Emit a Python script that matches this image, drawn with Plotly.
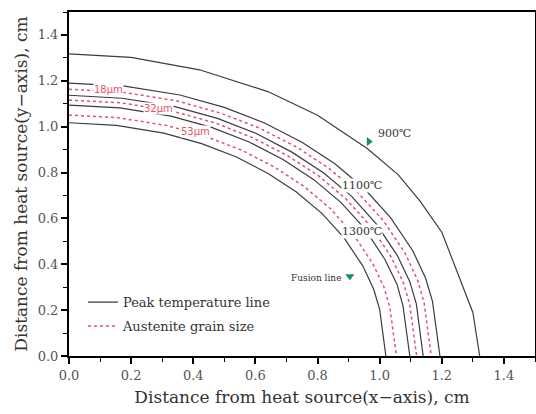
import plotly.graph_objects as go

# Peak temperature lines (solid)
fusion_x = [0, 0.153, 0.305, 0.427, 0.539, 0.641, 0.732, 0.814, 0.885, 0.946, 0.981, 1.000, 1.020]
fusion_y = [1.017, 1.006, 0.972, 0.926, 0.868, 0.796, 0.715, 0.622, 0.516, 0.392, 0.290, 0.203, 0]
t1300_x = [0, 0.164, 0.328, 0.459, 0.580, 0.689, 0.788, 0.875, 0.952, 1.017, 1.056, 1.075, 1.097]
t1300_y = [1.094, 1.082, 1.046, 0.997, 0.933, 0.857, 0.769, 0.670, 0.555, 0.421, 0.312, 0.219, 0]
t1200_x = [0, 0.171, 0.341, 0.478, 0.603, 0.716, 0.819, 0.910, 0.989, 1.057, 1.097, 1.118, 1.140]
t1200_y = [1.137, 1.124, 1.087, 1.036, 0.970, 0.890, 0.799, 0.696, 0.576, 0.438, 0.324, 0.227, 0]
t1100_x = [0, 0.179, 0.357, 0.500, 0.631, 0.750, 0.857, 0.952, 1.035, 1.107, 1.148, 1.170, 1.194]
t1100_y = [1.190, 1.177, 1.138, 1.084, 1.015, 0.932, 0.837, 0.728, 0.603, 0.458, 0.339, 0.238, 0]
t900_x = [0, 0.20, 0.42, 0.64, 0.80, 0.96, 1.06, 1.13, 1.20, 1.30, 1.322]
t900_y = [1.317, 1.302, 1.248, 1.153, 1.050, 0.905, 0.79, 0.675, 0.54, 0.19, 0]

# Austenite grain size lines (dotted)
g53_x = [0, 0.158, 0.315, 0.441, 0.557, 0.662, 0.757, 0.841, 0.914, 0.977, 1.014, 1.033, 1.054]
g53_y = [1.051, 1.039, 1.005, 0.957, 0.897, 0.823, 0.739, 0.643, 0.533, 0.405, 0.300, 0.210, 0]
g32_x = [0, 0.167, 0.335, 0.469, 0.591, 0.703, 0.804, 0.893, 0.971, 1.038, 1.077, 1.097, 1.119]
g32_y = [1.116, 1.104, 1.067, 1.017, 0.952, 0.874, 0.785, 0.683, 0.566, 0.430, 0.318, 0.223, 0]
g18_x = [0, 0.174, 0.349, 0.488, 0.616, 0.733, 0.837, 0.930, 1.012, 1.082, 1.122, 1.143, 1.166]
g18_y = [1.163, 1.150, 1.112, 1.059, 0.992, 0.911, 0.818, 0.712, 0.590, 0.448, 0.331, 0.233, 0]

# Labels
temp_labels = ["900℃", "1100℃", "1300℃"]
temp_lx = [0.99, 0.944, 0.942]
temp_ly = [0.970, 0.743, 0.543]
grain_labels = ["18μm", "32μm", "53μm"]
grain_lx = [0.127, 0.289, 0.408]
grain_ly = [1.161, 1.078, 0.978]
marker_900 = (0.965, 0.935)
marker_fusion = (0.904, 0.348)

SOLID = "#3c3c3c"
RED = "#e8506a"
GREEN = "#1f8a6a"
FONT = "DejaVu Serif"

fig = go.Figure()
solid = [(fusion_x, fusion_y), (t1300_x, t1300_y), (t1200_x, t1200_y),
         (t1100_x, t1100_y), (t900_x, t900_y)]
for i, (xs, ys) in enumerate(solid):
    fig.add_trace(go.Scatter(x=xs, y=ys, mode="lines",
                             line=dict(color=SOLID, width=1.2),
                             name="Peak temperature line", legendgroup="peak",
                             showlegend=(i == 0)))
dotted = [(g53_x, g53_y), (g32_x, g32_y), (g18_x, g18_y)]
for i, (xs, ys) in enumerate(dotted):
    fig.add_trace(go.Scatter(x=xs, y=ys, mode="lines",
                             line=dict(color=RED, width=1.5, dash="dot"),
                             name="Austenite grain size", legendgroup="grain",
                             showlegend=(i == 0)))

fig.add_trace(go.Scatter(x=[marker_900[0]], y=[marker_900[1]], mode="markers",
                         marker=dict(symbol="triangle-right", size=8, color=GREEN),
                         showlegend=False))
fig.add_trace(go.Scatter(x=[marker_fusion[0]], y=[marker_fusion[1]], mode="markers",
                         marker=dict(symbol="triangle-down", size=8, color=GREEN),
                         showlegend=False))

for t, x, y in zip(temp_labels, temp_lx, temp_ly):
    fig.add_annotation(x=x, y=y, text=t, showarrow=False,
                       xanchor="left" if t == "900℃" else "center",
                       font=dict(family=FONT, size=11, color="#333333"),
                       bgcolor="white" if t != "900℃" else None, borderpad=0)
fig.add_annotation(x=0.886, y=0.339, text="Fusion line", showarrow=False,
                   xanchor="right", font=dict(family=FONT, size=9, color="#333333"))
for t, x, y in zip(grain_labels, grain_lx, grain_ly):
    fig.add_annotation(x=x, y=y, text=t, showarrow=False,
                       font=dict(family="DejaVu Sans", size=10, color=RED),
                       bgcolor="white", borderpad=0)

axis_common = dict(
    showgrid=False, zeroline=False, showline=True, linecolor="black", linewidth=2,
    mirror=True, ticks="outside", ticklen=6, tickwidth=1.5, tickcolor="black",
    dtick=0.2, tick0=0, tickformat=".1f",
    tickfont=dict(family=FONT, size=13, color="#555555"),
    minor=dict(dtick=0.1, ticks="outside", ticklen=4, tickwidth=1.2, tickcolor="black"),
)
fig.update_xaxes(range=[0, 1.5], title=dict(text="Distance from heat source(x−axis), cm",
                 font=dict(family=FONT, size=17, color="#333333"), standoff=10),
                 **axis_common)
fig.update_yaxes(range=[0, 1.5], title=dict(text="Distance from heat source(y−axis), cm",
                 font=dict(family=FONT, size=17, color="#333333"), standoff=6),
                 **axis_common)

fig.update_layout(
    width=536, height=414,
    margin=dict(l=69, r=1, t=12, b=58, autoexpand=False),
    plot_bgcolor="white", paper_bgcolor="white",
    legend=dict(x=0.03, y=0.2, xanchor="left", yanchor="top",
                bgcolor="rgba(0,0,0,0)", font=dict(family=FONT, size=13, color="#333333"),
                itemwidth=30, tracegroupgap=4),
)

fig.write_html("out.html")
